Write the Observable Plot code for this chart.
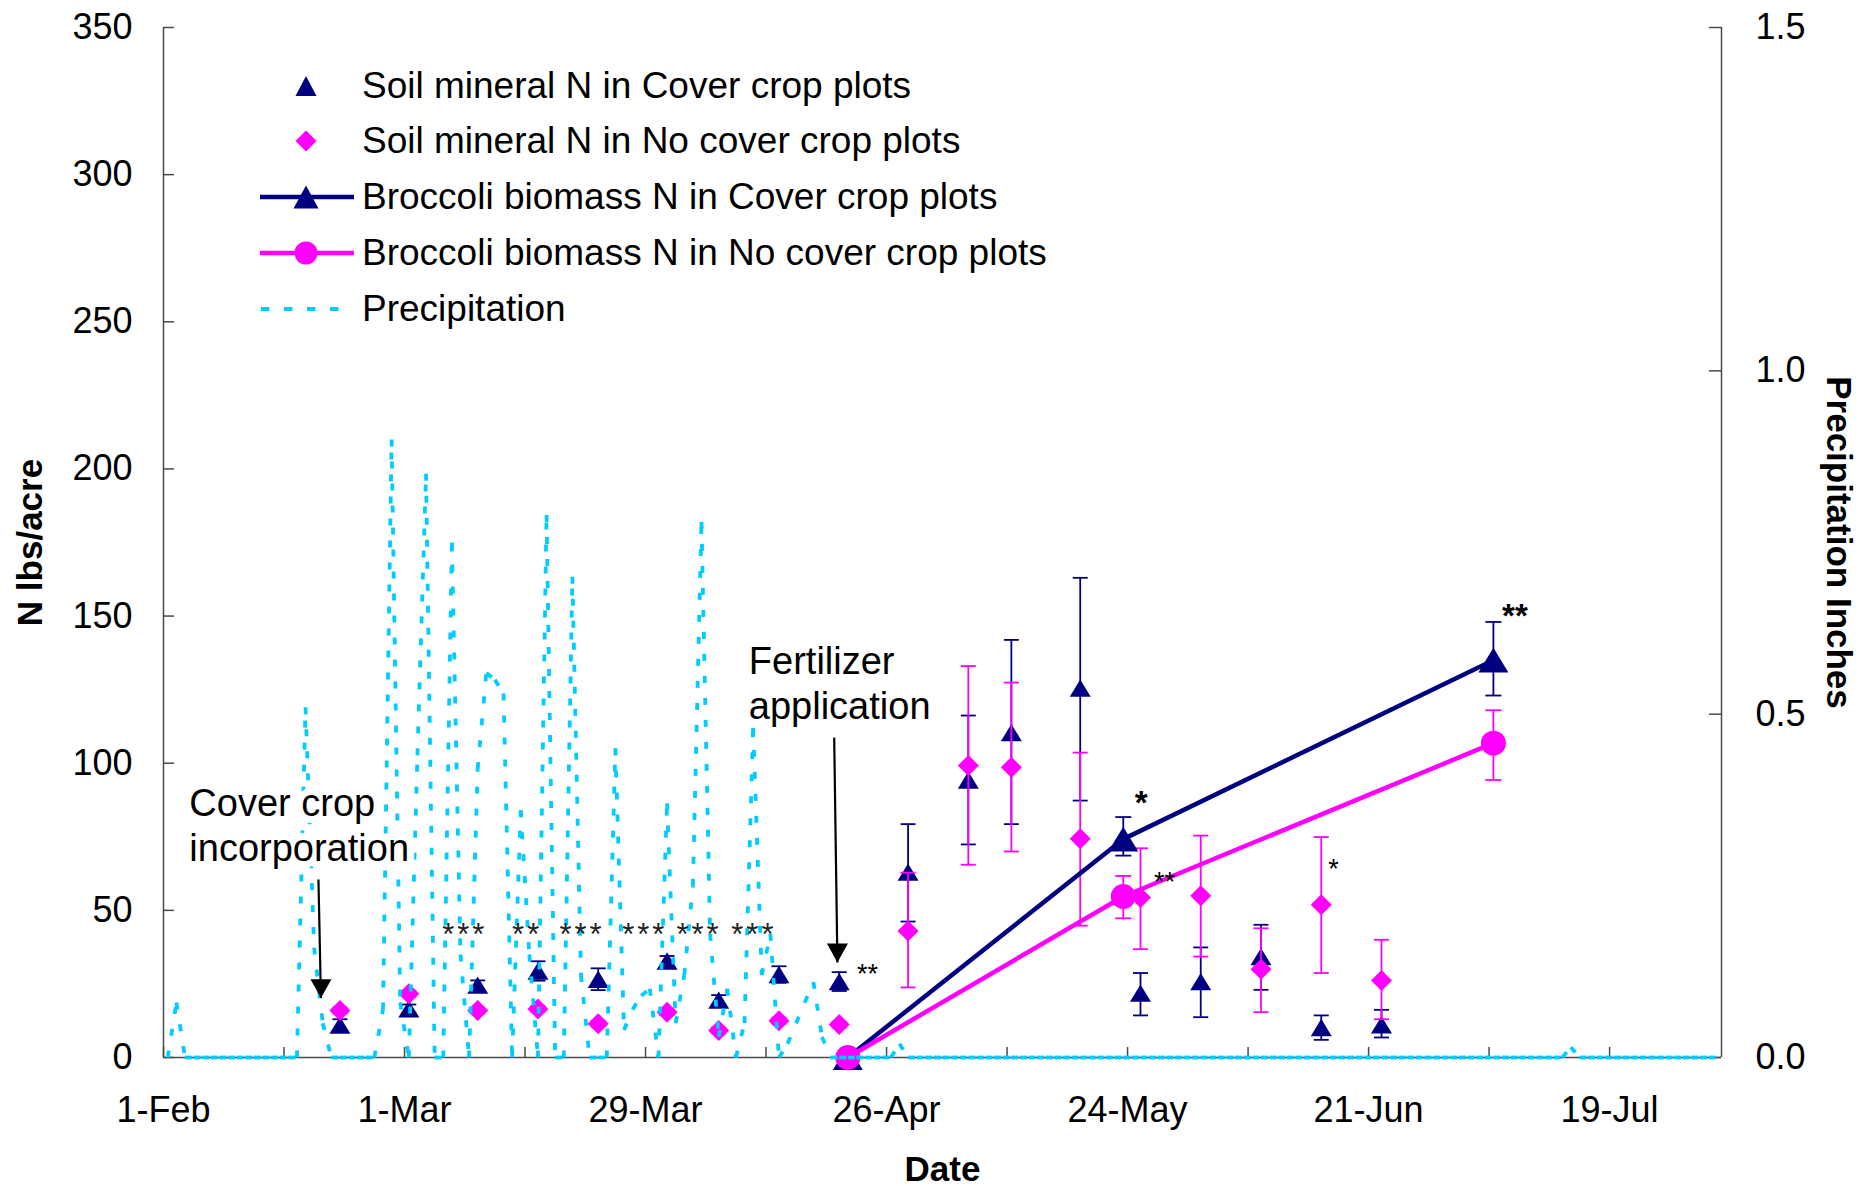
<!DOCTYPE html>
<html>
<head>
<meta charset="utf-8">
<script src="https://cdn.jsdelivr.net/npm/d3@7"></script>
<script src="https://cdn.jsdelivr.net/npm/@observablehq/plot@0.6"></script>
<style>
  body { margin: 0; background: #fff; }
  #wrap { position: relative; width: 1870px; height: 1186px; font-family: 'Liberation Sans', Arial, sans-serif; }
  .lg-row { position: absolute; left: 250px; height: 50px; display: flex; align-items: center; font-size: 37px; color: #000; white-space: nowrap; }
  .lg-row svg { display: block; }
</style>
</head>
<body>
<div id="wrap"></div>
<script>
// ---------------- DATA ----------------
// Soil sampling dates
const sampleDates = ["2007-02-21","2007-03-01","2007-03-09","2007-03-16","2007-03-23","2007-03-31","2007-04-06","2007-04-13","2007-04-20",
                     "2007-04-28","2007-05-05","2007-05-10","2007-05-18","2007-05-25","2007-06-01","2007-06-08","2007-06-15","2007-06-22"];
// Soil mineral N in Cover crop plots (lbs/acre) with error-bar bounds
const soilCover   = [11, 16.5, 24.6, 29.4, 26.6, 32.8, 19.5, 28.2, 25.8, 63, 94.3, 110.4, 125.5, 21.9, 25.8, 34.3, 10.2, 11.1];
const soilCoverLo = [9, 15, 23, 26.1, 22.9, 31.1, 17.8, 25.4, 22.6, 46.2, 72.4, 79.3, 87.3, 14.3, 13.7, 23, 6, 6.8];
const soilCoverHi = [13, 18, 26.2, 32.7, 30.3, 34.5, 21.2, 31, 29, 79.3, 116.2, 141.9, 163, 28.7, 37.4, 45.1, 14.3, 16.2];
// Soil mineral N in No cover crop plots
const soilNoCover   = [16, 21.7, 16, 16.5, 11.5, 15.4, 9.2, 12.5, 11.2, 43, 99.2, 98.6, 74.3, 54.4, 55, 30, 51.9, 26.2];
const soilNoCoverLo = [15, 20.7, 15, 15.5, 10.5, 14.4, 8.2, 11.5, 10.2, 23.8, 65.5, 70, 44.8, 36.8, 34.3, 15.4, 28.7, 13];
const soilNoCoverHi = [17, 22.7, 17, 17.5, 12.5, 16.4, 10.2, 13.5, 12.2, 62.8, 133, 127.4, 103.6, 71.1, 75.4, 43.9, 74.9, 40];
// Broccoli biomass N
const broccoliDates     = ["2007-04-21", "2007-05-23", "2007-07-05"];
const broccoliCover     = [0, 74.2, 135];
const broccoliCoverLo   = [0, 68.6, 123];
const broccoliCoverHi   = [0, 81.7, 148];
const broccoliNoCover   = [0, 54.7, 106.8];
const broccoliNoCoverLo = [0, 47.3, 94.3];
const broccoliNoCoverHi = [0, 61.7, 118];
// Daily precipitation (inches), one value per day starting 1-Feb
const precipStart = "2007-02-01";
const precipInches = [
  0, 0.08, 0, 0, 0, 0, 0, 0, 0, 0,
  0, 0, 0, 0, 0, 0, 0.51, 0.16, 0.05, 0,
  0, 0, 0, 0, 0, 0.07, 0.90, 0.08, 0, 0.44,
  0.85, 0, 0, 0.75, 0.15, 0, 0.42, 0.56, 0.55, 0.53,
  0, 0.36, 0.15, 0, 0.79, 0, 0, 0.70, 0.12, 0,
  0, 0, 0.45, 0.04, 0.07, 0.09, 0.10, 0, 0.37, 0.05,
  0.12, 0.25, 0.78, 0.18, 0.03, 0.10, 0, 0.05, 0.48, 0.12,
  0.18, 0, 0.02, 0.05, 0.08, 0.11, 0.03, 0, 0, 0,
  0, 0, 0, 0, 0, 0.02, 0, 0, 0, 0,
  0, 0, 0, 0, 0, 0, 0, 0, 0, 0,
  0, 0, 0, 0, 0, 0, 0, 0, 0, 0,
  0, 0, 0, 0, 0, 0, 0, 0, 0, 0,
  0, 0, 0, 0, 0, 0, 0, 0, 0, 0,
  0, 0, 0, 0, 0, 0, 0, 0, 0, 0,
  0, 0, 0, 0, 0, 0, 0, 0, 0, 0,
  0, 0, 0, 0, 0, 0, 0, 0, 0, 0,
  0, 0, 0, 0.015, 0, 0, 0, 0, 0, 0,
  0, 0, 0, 0, 0, 0, 0, 0, 0, 0,
  0
];
// Axes
const xDomain = ["2007-02-01", "2007-08-01"];
const xLabelDates = ["2007-02-01","2007-03-01","2007-03-29","2007-04-26","2007-05-24","2007-06-21","2007-07-19"];
const xMinorDates = ["2007-02-15","2007-03-15","2007-04-12","2007-05-10","2007-06-07","2007-07-05"];
const yTicks = [0, 50, 100, 150, 200, 250, 300, 350];
const precipTicks = [0, 0.5, 1.0, 1.5];
const precipMax = 1.5, nMax = 350;
// Legend
const legendLabels = ["Soil mineral N in Cover crop plots", "Soil mineral N in No cover crop plots",
  "Broccoli biomass N in Cover crop plots", "Broccoli biomass N in No cover crop plots", "Precipitation"];
// Annotations
const noteText  = ["Cover crop\nincorporation", "Fertilizer\napplication"];
const noteDate  = ["2007-02-04T00:00Z", "2007-04-10T00:00Z"];
const noteValue = [79.4, 127.6];
const arrowFromDate = ["2007-02-19T00:00Z", "2007-04-19T22:00Z"];
const arrowFromValue = [60.5, 108.7];
const arrowToDate = ["2007-02-19T07:00Z", "2007-04-20T07:00Z"];
const arrowToValue = [20.2, 32.3];
// Significance marks
const groupStarText  = ["***", "**", "***", "***", "***", "***"];
const groupStarDate  = ["2007-03-08T00:00Z","2007-03-15T06:00Z","2007-03-21T15:00Z","2007-03-28T22:00Z","2007-04-04T05:00Z","2007-04-10T14:00Z"];
const groupStarValue = [44.2, 44.2, 44.2, 44.2, 44.2, 44.2];
const smallStarText  = ["**", "**", "*"];
const smallStarDate  = ["2007-04-23T19:00Z", "2007-05-28T07:00Z", "2007-06-16T22:00Z"];
const smallStarValue = [30.5, 61.8, 66.2];
const boldStarText   = ["*", "**"];
const boldStarDate   = ["2007-05-25T14:00Z", "2007-07-08T00:00Z"];
const boldStarValue  = [89, 152.5];

// ---------------- STYLE / LAYOUT ----------------
const W = 1870, H = 1186, mL = 163, mR = 149, mT = 27, mB = 129;
const innerW = W - mL - mR, innerH = H - mT - mB;
const NAVY = "#000080", MAGENTA = "#FF00FF", CYAN = "#00CCFF", AX = "#4a4a4a";
const K = nMax / precipMax;               // left-axis units per inch
const HALF_DAY = 12 * 3600 * 1000;        // Excel "between tick marks" placement
const mid = s => new Date(+new Date(s) + HALF_DAY);
const dayMid = i => new Date(+new Date(precipStart) + i * 86400000 + HALF_DAY);

const triSym = {draw(c, size) { const r = Math.sqrt(size / Math.PI), h = r * 1.65; c.moveTo(0, -h / 2); c.lineTo(r, h / 2); c.lineTo(-r, h / 2); c.closePath(); }};
const diaSym = {draw(c, size) { const r = Math.sqrt(size / Math.PI); c.moveTo(0, -r); c.lineTo(r, 0); c.lineTo(0, r); c.lineTo(-r, 0); c.closePath(); }};
const capSym = {draw(c, size) { const r = Math.sqrt(size / Math.PI); c.moveTo(-r, 0); c.lineTo(r, 0); }};
const headSym = {draw(c, size) { const r = Math.sqrt(size / Math.PI); c.moveTo(-r, -1.8 * r); c.lineTo(r, -1.8 * r); c.lineTo(0, 0); c.closePath(); }};

// tables built from arrays
const soil = sampleDates.map((d, i) => ({date: mid(d),
  c: soilCover[i], cLo: soilCoverLo[i], cHi: soilCoverHi[i],
  n: soilNoCover[i], nLo: soilNoCoverLo[i], nHi: soilNoCoverHi[i]}));
const broc = broccoliDates.map((d, i) => ({date: mid(d),
  c: broccoliCover[i], cLo: broccoliCoverLo[i], cHi: broccoliCoverHi[i],
  n: broccoliNoCover[i], nLo: broccoliNoCoverLo[i], nHi: broccoliNoCoverHi[i]}));
const brocErrC = broc.filter(d => d.cHi > d.cLo);
const brocErrN = broc.filter(d => d.nHi > d.nLo);
const precipSeg = d3.range(precipInches.length - 1).map(i => ({
  x1: dayMid(i), y1: precipInches[i] * K, x2: dayMid(i + 1), y2: precipInches[i + 1] * K}));
const idx2 = d3.range(2);

const errMarks = (data, lo, hi, color, capR) => [
  Plot.ruleX(data, {x: "date", y1: lo, y2: hi, stroke: color, strokeWidth: 1.8}),
  Plot.dot(data, {x: "date", y: hi, symbol: capSym, r: capR, stroke: color, strokeWidth: 1.8, fill: "none"}),
  Plot.dot(data, {x: "date", y: lo, symbol: capSym, r: capR, stroke: color, strokeWidth: 1.8, fill: "none"})
];

const chart = Plot.plot({
  width: W, height: H,
  marginLeft: mL, marginRight: mR, marginTop: mT, marginBottom: mB,
  style: {fontFamily: "'Liberation Sans', Arial, sans-serif", fontSize: "36px", color: "#000", background: "#fff", overflow: "visible"},
  x: {type: "utc", domain: xDomain.map(d => new Date(d))},
  y: {domain: [0, nMax]},
  marks: [
    // tick marks (inside)
    Plot.ruleX(xLabelDates.concat(xMinorDates), {x: d => new Date(d), stroke: AX, strokeWidth: 1.5, insetTop: innerH - 10}),
    Plot.ruleY(yTicks, {y: d => d, stroke: AX, strokeWidth: 1.5, insetRight: innerW - 11}),
    Plot.ruleY(precipTicks, {y: d => d * K, stroke: AX, strokeWidth: 1.5, insetLeft: innerW - 12}),
    // axis lines
    Plot.ruleX(xDomain, {x: d => new Date(d), stroke: AX, strokeWidth: 1.5}),
    Plot.ruleY([0], {stroke: AX, strokeWidth: 1.5}),
    // tick labels
    Plot.axisX({ticks: xLabelDates.map(d => new Date(d)), tickFormat: d3.utcFormat("%-d-%b"), tickSize: 0, tickPadding: 39, fontSize: 36, label: null}),
    Plot.axisY({anchor: "left", ticks: yTicks, tickSize: 0, tickPadding: 31, fontSize: 36, label: null}),
    Plot.axisY({anchor: "right", ticks: precipTicks.map(v => v * K), tickFormat: v => (v / K).toFixed(1), tickSize: 0, tickPadding: 34, fontSize: 36, label: null}),
    // axis titles
    Plot.text(["N lbs/acre"], {frameAnchor: "left", dx: -133, rotate: -90, textAnchor: "middle", lineAnchor: "middle", fontSize: 35, fontWeight: "bold"}),
    Plot.text(["Precipitation Inches"], {frameAnchor: "right", dx: 117, rotate: 90, textAnchor: "middle", lineAnchor: "middle", fontSize: 35, fontWeight: "bold"}),
    Plot.text(["Date"], {frameAnchor: "bottom", dy: 112, textAnchor: "middle", lineAnchor: "middle", fontSize: 35, fontWeight: "bold"}),
    // soil mineral N
    ...errMarks(soil, "cLo", "cHi", NAVY, 7.5),
    Plot.dot(soil, {x: "date", y: "c", symbol: triSym, r: 10.5, fill: NAVY, stroke: "none"}),
    ...errMarks(soil, "nLo", "nHi", MAGENTA, 7.5),
    Plot.dot(soil, {x: "date", y: "n", symbol: diaSym, r: 10.5, fill: MAGENTA, stroke: "none"}),
    // broccoli biomass N
    Plot.line(broc, {x: "date", y: "c", stroke: NAVY, strokeWidth: 4.5}),
    ...errMarks(brocErrC, "cLo", "cHi", NAVY, 8),
    Plot.dot(broc, {x: "date", y: "c", symbol: triSym, r: 15, fill: NAVY, stroke: "none"}),
    Plot.line(broc, {x: "date", y: "n", stroke: MAGENTA, strokeWidth: 4.5}),
    ...errMarks(brocErrN, "nLo", "nHi", MAGENTA, 8),
    Plot.dot(broc, {x: "date", y: "n", r: 12.5, fill: MAGENTA, stroke: "none"}),
    // precipitation (secondary axis), one dashed segment per day as in the source
    Plot.link(precipSeg, {x1: "x1", y1: "y1", x2: "x2", y2: "y2", stroke: CYAN, strokeWidth: 3.8, strokeDasharray: "7,15"}),
    // annotations
    Plot.text(noteText, {x: (d, i) => new Date(noteDate[i]), y: (d, i) => noteValue[i], textAnchor: "start", lineAnchor: "middle",
      lineHeight: 1.2, fontSize: 38, fill: "#000", stroke: "#fff", strokeWidth: 14}),
    Plot.link(idx2, {x1: i => new Date(arrowFromDate[i]), y1: i => arrowFromValue[i], x2: i => new Date(arrowToDate[i]), y2: i => arrowToValue[i], stroke: "#000", strokeWidth: 2.2}),
    Plot.dot(idx2, {x: i => new Date(arrowToDate[i]), y: i => arrowToValue[i], symbol: headSym, r: 10.5, fill: "#000", stroke: "none"}),
    // significance marks
    Plot.text(groupStarText, {x: (d, i) => new Date(groupStarDate[i]), y: (d, i) => groupStarValue[i], fontSize: 31, fill: "#222", dy: 7.5, className: "grpstars"}),
    Plot.text(smallStarText, {x: (d, i) => new Date(smallStarDate[i]), y: (d, i) => smallStarValue[i], fontSize: 27, fill: "#000", dy: 6.5}),
    Plot.text(boldStarText, {x: (d, i) => new Date(boldStarDate[i]), y: (d, i) => boldStarValue[i], fontSize: 33, fontWeight: "bold", fill: "#000", dy: 8})
  ]
});
chart.querySelectorAll(".grpstars text").forEach(t => t.style.letterSpacing = "3px");

const wrap = document.getElementById("wrap");
wrap.appendChild(chart);

// legend (inside plot area, top-left)
const rowCenters = [85.5, 141.3, 197, 252.8, 308.6];
const icons = [
  `<polygon points="45.5,35 66.5,35 56,15" fill="${NAVY}"/>`,
  `<polygon points="56,14.5 66.5,25 56,35.5 45.5,25" fill="${MAGENTA}"/>`,
  `<line x1="10" x2="104" y1="25" y2="25" stroke="${NAVY}" stroke-width="4.5"/><polygon points="43.5,36.5 68.5,36.5 56,13.5" fill="${NAVY}"/>`,
  `<line x1="10" x2="104" y1="25" y2="25" stroke="${MAGENTA}" stroke-width="4.5"/><circle cx="56" cy="25" r="11.5" fill="${MAGENTA}"/>`,
  `<line x1="11" x2="90" y1="25" y2="25" stroke="${CYAN}" stroke-width="3.8" stroke-dasharray="8.4,14.6"/>`
];
legendLabels.forEach((label, i) => {
  const row = document.createElement("div");
  row.className = "lg-row";
  row.style.top = (rowCenters[i] - 25) + "px";
  row.innerHTML = `<svg width="112" height="50">${icons[i]}</svg><span>${label}</span>`;
  wrap.appendChild(row);
});
</script>
</body>
</html>
